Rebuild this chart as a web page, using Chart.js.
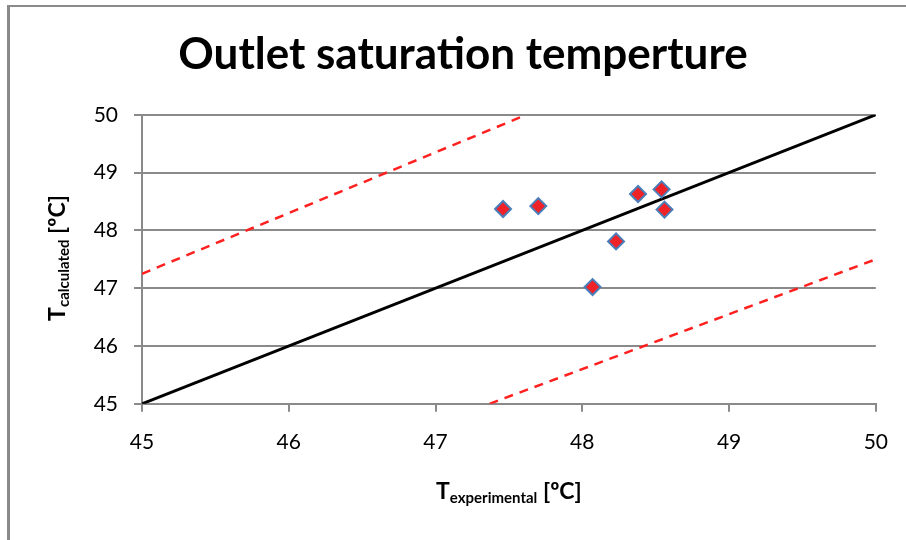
<!DOCTYPE html>
<html>
<head>
<meta charset="utf-8">
<script src="https://cdn.jsdelivr.net/npm/chart.js@4"></script>
<style>
  body { margin: 0; background: #fff; }
  #frame { position: absolute; left: 7px; top: 5px; width: 920px; height: 560px;
           border-left: 3px solid #8a8a8a; border-top: 2px solid #8a8a8a; }
  #wrap { position: absolute; left: 0; top: 0; width: 906px; height: 540px; }
</style>
</head>
<body>
<div id="frame"></div>
<div id="wrap"><canvas id="myChart"></canvas></div>
<script>
// measured points
const tExp  = [47.46, 47.70, 48.07, 48.23, 48.38, 48.54, 48.56];
const tCalc = [48.37, 48.42, 47.02, 47.81, 48.63, 48.71, 48.36];

// reference lines: y = x and +-5 %
const idealX = [45, 50];
const idealY = [45, 50];
const upperX = [45, 47.619];
const upperY = [47.25, 50];
const lowerX = [47.368, 50];
const lowerY = [45, 47.5];

const ticks = [45, 46, 47, 48, 49, 50];

const FONT = 'Lato';

function pts(xs, ys) {
    return xs.map((x, i) => ({ x: x, y: ys[i] }));
}

// axis titles with subscripts
const axisTitles = {
    id: 'axisTitles',
    afterDraw(chart) {
        const ctx = chart.ctx;
        const a = chart.chartArea;
        ctx.save();
        ctx.fillStyle = '#000';
        ctx.textBaseline = 'alphabetic';

        function drawLabel(sub, cx, cy) {
            const big = 'bold 23px ' + FONT;
            const small = 'bold 15px ' + FONT;
            ctx.font = big;
            const wT = ctx.measureText('T').width;
            const wU = ctx.measureText(' [ºC]').width;
            ctx.font = small;
            const wS = ctx.measureText(sub).width;
            let x = cx - (wT + wS + wU) / 2;
            ctx.font = big;
            ctx.fillText('T', x, cy);
            x += wT;
            ctx.font = small;
            ctx.fillText(sub, x, cy + 4);
            x += wS;
            ctx.font = big;
            ctx.fillText(' [ºC]', x, cy);
        }

        drawLabel('experimental', (a.left + a.right) / 2, 499);

        ctx.translate(65, 258);
        ctx.rotate(-Math.PI / 2);
        drawLabel('calculated', 0, 0);
        ctx.restore();
    }
};

let myChart = document.getElementById('myChart').getContext('2d');

new Chart(myChart, {
    type: 'scatter',
    data: {
        datasets: [
            {
                label: 'measured',
                data: pts(tExp, tCalc),
                pointStyle: 'rectRot',
                pointRadius: 8,
                pointBackgroundColor: '#ee2227',
                pointBorderColor: '#4a7ebb',
                pointBorderWidth: 2,
                showLine: false,
                order: 0
            },
            {
                label: 'ideal',
                data: pts(idealX, idealY),
                showLine: true,
                borderColor: '#000',
                borderWidth: 3,
                pointRadius: 0,
                order: 1
            },
            {
                label: '+5%',
                data: pts(upperX, upperY),
                showLine: true,
                borderColor: '#ff2020',
                borderWidth: 2.5,
                borderDash: [9, 7],
                pointRadius: 0,
                order: 2
            },
            {
                label: '-5%',
                data: pts(lowerX, lowerY),
                showLine: true,
                borderColor: '#ff2020',
                borderWidth: 2.5,
                borderDash: [9, 7],
                pointRadius: 0,
                order: 2
            }
        ]
    },
    options: {
        responsive: true,
        maintainAspectRatio: false,
        animation: false,
        layout: { padding: { left: 48, right: 28, top: 0, bottom: 67 } },
        plugins: {
            legend: { display: false },
            tooltip: { enabled: false },
            title: {
                display: true,
                text: 'Outlet saturation temperture',
                color: '#000',
                font: { family: FONT, size: 44, weight: 'bold' },
                padding: { top: 28, bottom: 34 }
            }
        },
        scales: {
            x: {
                type: 'linear',
                min: 45, max: 50,
                afterBuildTicks: s => { s.ticks = ticks.map(v => ({ value: v })); },
                grid: { drawOnChartArea: false, color: '#8a8a8a', lineWidth: 2, tickLength: 8 },
                border: { color: '#8a8a8a', width: 2 },
                ticks: { color: '#000', font: { family: FONT, size: 21 }, padding: 18 }
            },
            y: {
                type: 'linear',
                min: 45, max: 50,
                afterBuildTicks: s => { s.ticks = ticks.map(v => ({ value: v })); },
                afterFit: s => { s.width = 94; },
                grid: { color: '#8a8a8a', lineWidth: 2, tickLength: 8 },
                border: { color: '#8a8a8a', width: 2 },
                ticks: { color: '#000', font: { family: FONT, size: 21 }, padding: 16 }
            }
        }
    },
    plugins: [axisTitles]
});
</script>
</body>
</html>
